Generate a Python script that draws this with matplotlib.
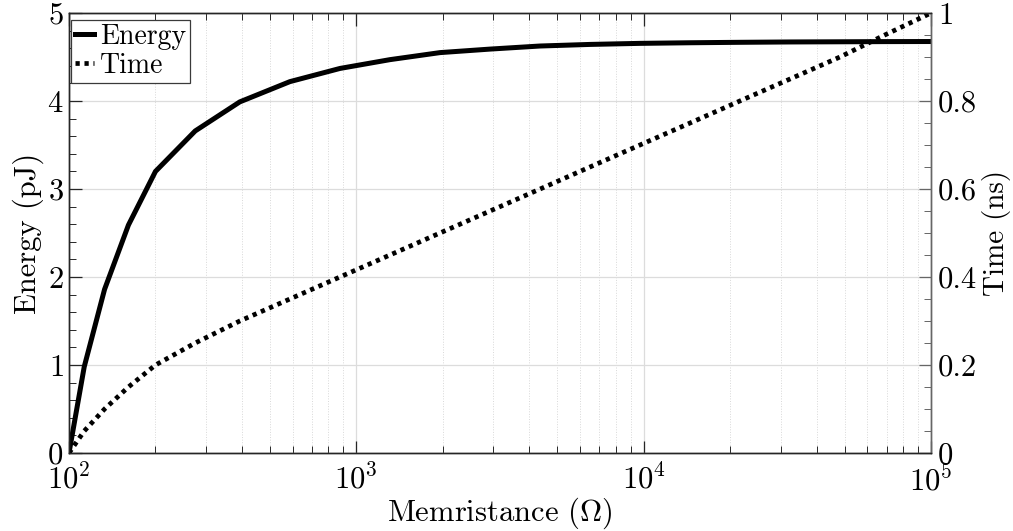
"""Energy and switching time versus memristance (dual y-axis, log x)."""
import matplotlib

matplotlib.use("Agg")
import matplotlib.pyplot as plt
from matplotlib.ticker import FuncFormatter, LogLocator, MultipleLocator

# values
memristance = [100, 113, 133, 161, 200, 275, 393, 587, 877, 1309, 1955,
               2920, 4360, 6500, 9700, 14500, 21600, 32300, 48200, 69000, 100000]
energy_pj = [0.0, 0.98, 1.86, 2.59, 3.20, 3.66, 3.99, 4.22, 4.37, 4.47, 4.55,
             4.59, 4.625, 4.643, 4.655, 4.662, 4.667, 4.671, 4.673, 4.675, 4.676]
time_ns = [0.0, 0.05, 0.10, 0.15, 0.20, 0.25, 0.30, 0.35, 0.40, 0.45, 0.50,
           0.55, 0.60, 0.65, 0.70, 0.75, 0.80, 0.85, 0.90, 0.95, 1.0]

plt.rcParams.update({
    "font.family": "serif",
    "font.serif": ["cmr10"],
    "mathtext.fontset": "cm",
    "axes.formatter.use_mathtext": True,
    "font.size": 22,
    "axes.unicode_minus": False,
})

AX_COLOR = "#262626"
RIGHT_COLOR = "#666666"

fig = plt.figure(figsize=(10.13, 5.31), dpi=100)
ax = fig.add_axes([0.0681, 0.1469, 0.851, 0.8286])
ax2 = ax.twinx()

l1, = ax.plot(memristance, energy_pj, color="black", lw=3.6,
              solid_joinstyle="miter", label="Energy")
l2, = ax2.plot(memristance, time_ns, color="black", lw=3.4,
               linestyle=(0, (0.9, 1.0)), label="Time")

ax.set_xscale("log")
ax.set_xlim(1e2, 1e5)
ax.set_ylim(0, 5)
ax2.set_ylim(0, 1)

ax.yaxis.set_major_locator(MultipleLocator(1))
ax.yaxis.set_minor_locator(MultipleLocator(0.2))
ax2.yaxis.set_major_locator(MultipleLocator(0.2))
ax2.yaxis.set_minor_locator(MultipleLocator(0.05))
ax2.yaxis.set_major_formatter(FuncFormatter(lambda v, p: f"{v:g}"))
ax.xaxis.set_minor_locator(LogLocator(base=10, subs=range(2, 10)))

# MATLAB-ish look: inward ticks, box, light grid
ax.tick_params(which="both", direction="in", top=True, right=False,
               colors=AX_COLOR, labelcolor="black")
ax.tick_params(which="major", length=9, width=0.9)
ax.tick_params(which="minor", length=5, width=0.7)
ax2.tick_params(which="both", direction="in", colors=RIGHT_COLOR, labelcolor="black")
ax2.tick_params(which="major", length=9, width=0.9)
ax2.tick_params(which="minor", length=5, width=0.7)
ax.tick_params(axis="x", pad=8)
ax.tick_params(axis="y", pad=4)
ax2.tick_params(axis="y", pad=5)

ax.grid(True, which="major", color="#dcdcdc", lw=0.9)
ax.grid(True, which="minor", axis="x", color="#d8d8d8", lw=0.7, linestyle=":")
ax.set_axisbelow(True)

for a in (ax, ax2):
    for sp in a.spines.values():
        sp.set_color(AX_COLOR)
        sp.set_linewidth(1.0)
ax2.spines["right"].set_color(RIGHT_COLOR)
ax.spines["right"].set_color(RIGHT_COLOR)

ax.set_xlabel(r"Memristance $(\Omega)$", labelpad=-1)
ax.set_ylabel("Energy (pJ)", labelpad=2)
ax2.set_ylabel("Time (ns)", labelpad=3.5, fontsize=21)

leg = ax2.legend([l1, l2], ["Energy", "Time"], loc="upper left",
                 bbox_to_anchor=(0.002, 0.985), borderaxespad=0,
                 fancybox=False, framealpha=1, edgecolor="#3a3a3a",
                 handlelength=0.7, handletextpad=0.2, borderpad=0.15,
                 labelspacing=0.1, fontsize=20)
leg.get_frame().set_linewidth(0.9)

fig.savefig("out.png", dpi=100)
